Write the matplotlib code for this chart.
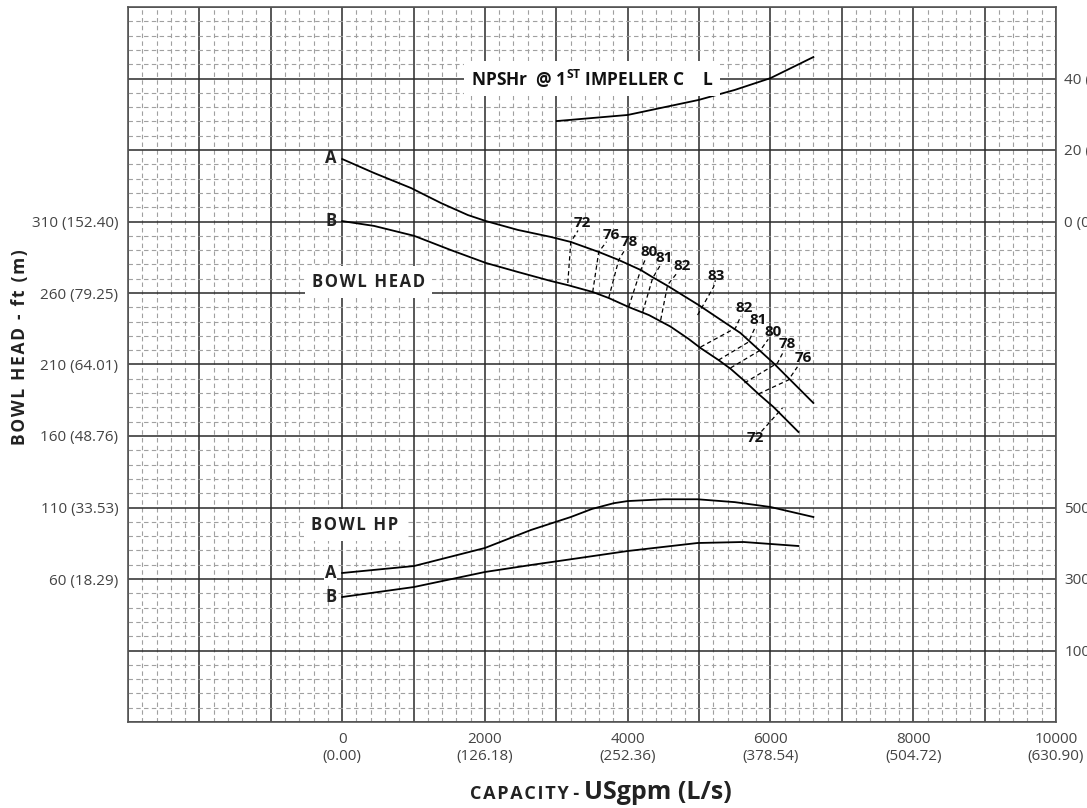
import matplotlib
matplotlib.use('Agg')
import matplotlib.pyplot as plt
from matplotlib.ticker import MultipleLocator

plt.rcParams['font.family'] = ['Open Sans', 'DejaVu Sans']
plt.rcParams['mathtext.fontset'] = 'custom'
plt.rcParams['mathtext.bf'] = 'Open Sans:bold'
plt.rcParams['mathtext.rm'] = 'Open Sans'

# ---- data ----
# bowl head (ft) vs capacity (USgpm)
head_a_q = [0, 448, 965, 1385, 1762, 2014, 2462, 2923, 3203, 3594, 3874, 4182, 4350, 4559, 4993, 5580, 6042, 6601]
head_a_h = [353.7, 343.9, 333.4, 322.9, 314.5, 310.3, 304.1, 299.2, 295.7, 288.7, 283.1, 276.1, 271.0, 265.0,
            251.6, 232.0, 211.0, 183.1]
head_b_q = [0, 448, 1007, 1524, 2014, 2462, 2923, 3161, 3510, 3734, 4014, 4300, 4600, 4850, 5021, 5273, 5441,
            5636, 5832, 6042, 6392]
head_b_h = [310.3, 306.9, 300.0, 290.0, 281.0, 274.7, 268.4, 265.5, 260.7, 256.5, 250.2, 244.5, 236.5, 228.0,
            221.5, 213.1, 207.0, 198.5, 189.4, 180.3, 162.8]

# bowl HP
hp_a_q = [0, 1007, 1999, 2643, 3203, 3500, 3804, 4000, 4500, 4979, 5500, 6000, 6601]
hp_a = [316.8, 336.3, 386.7, 437.0, 473.4, 496.0, 512.0, 518.0, 523.0, 523.0, 515.0, 501.4, 473.4]
hp_b_q = [0, 1007, 2000, 2643, 3300, 4000, 4979, 5622, 6392]
hp_b = [249.6, 277.6, 319.6, 339.1, 358.0, 378.3, 400.7, 403.5, 392.3]

# NPSHr (ft)
npsh_q = [3007, 4000, 4993, 5500, 6000, 6601]
npsh = [28.1, 29.8, 34.0, 36.8, 40.1, 46.0]

# efficiency marks: label, start (q, ft), end (q, ft), label position (q, ft)
eff_lbl = ['72', '76', '78', '80', '81', '82', '83', '82', '81', '80', '78', '76', '72']
eff_q0 = [3161, 3510, 3734, 4014, 4210, 4462, 4979, 5021, 5273, 5441, 5636, 5832, 5930]
eff_h0 = [267.0, 260.7, 256.5, 250.2, 246.7, 241.1, 244.6, 222.2, 213.1, 207.6, 197.1, 189.4, 166.3]
eff_q1 = [3203, 3594, 3874, 4182, 4350, 4559, 5203, 5510, 5692, 5860, 6098, 6252, 6168]
eff_h1 = [295.7, 288.7, 283.1, 276.1, 270.5, 265.6, 264.2, 235.5, 225.7, 220.1, 211.0, 199.2, 179.6]
eff_qt = [3371, 3776, 4028, 4294, 4518, 4769, 5245, 5636, 5832, 6042, 6238, 6462, 5790]
eff_ht = [309.0, 300.6, 295.7, 288.7, 284.5, 278.9, 271.9, 249.5, 241.1, 232.7, 224.3, 214.5, 158.6]

# axis ticks
q_ticks = [0, 2000, 4000, 6000, 8000, 10000]
q_lps = ['0.00', '126.18', '252.36', '378.54', '504.72', '630.90']
h_ticks = [60, 110, 160, 210, 260, 310]
h_m = ['18.29', '33.53', '48.76', '64.01', '79.25', '152.40']
npsh_ticks = [0, 20, 40]
npsh_m = ['0.00', '6.10', '12.19']
hp_ticks = [100, 300, 500]

fig = plt.figure(figsize=(10.87, 8.08), dpi=100)
ax = fig.add_axes([128 / 1087, 1 - 722 / 808, 928 / 1087, 715 / 808])
ax.set_xlim(-3000, 10000)
ax.set_ylim(-40, 460)

# grid
ax.xaxis.set_major_locator(MultipleLocator(1000))
ax.yaxis.set_major_locator(MultipleLocator(50))
ax.xaxis.set_minor_locator(MultipleLocator(200))
ax.yaxis.set_minor_locator(MultipleLocator(10))
ax.grid(which='minor', color='#a0a0a0', lw=0.8, linestyle=(0, (4, 3)))
ax.grid(which='major', color='#2a2a2a', lw=1.1, linestyle='-')
ax.set_axisbelow(True)
ax.tick_params(which='both', length=0)

xt = list(range(-3000, 10001, 1000))
ax.set_xticks(xt)
ax.set_xticklabels([f'{q}\n({q_lps[q_ticks.index(q)]})' if q in q_ticks else '' for q in xt],
                   fontsize=11, color='#444444', linespacing=1.25)
yt = list(range(-40, 461, 50))
ax.set_yticks(yt)
ax.set_yticklabels([f'{h} ({h_m[h_ticks.index(h)]})' if h in h_ticks else '' for h in yt],
                   fontsize=11, color='#444444')
ax.tick_params(axis='x', pad=7)
ax.tick_params(axis='y', pad=7)
for s in ax.spines.values():
    s.set_color('#555555')
    s.set_linewidth(1.2)

# head curves
ax.plot(head_a_q, head_a_h, color='black', lw=1.3, zorder=3)
ax.plot(head_b_q, head_b_h, color='black', lw=1.3, zorder=3)

# efficiency marks
for i in range(len(eff_lbl)):
    tq = eff_q1[i] + 0.6 * (eff_qt[i] - eff_q1[i])
    th = eff_h1[i] + 0.6 * (eff_ht[i] - eff_h1[i])
    if i == len(eff_lbl) - 1:
        tq, th = eff_q0[i] - 0.4 * (eff_q0[i] - eff_qt[i]), eff_h0[i] - 0.4 * (eff_h0[i] - eff_ht[i])
        ax.plot([tq, eff_q1[i]], [th, eff_h1[i]], color='black', lw=0.9,
                linestyle=(0, (3.5, 2.5)), zorder=3)
    else:
        ax.plot([eff_q0[i], eff_q1[i], tq], [eff_h0[i], eff_h1[i], th], color='black', lw=0.9,
                linestyle=(0, (3.5, 2.5)), zorder=3)
    ax.text(eff_qt[i], eff_ht[i], eff_lbl[i], fontsize=11, fontweight='bold', color='#111111',
            ha='center', va='center', zorder=4)

ax.text(364, 268, '\u200a'.join('BOWL HEAD'), fontsize=12, fontweight='bold',
        color='#222222', ha='center', va='center', bbox=dict(facecolor='white', edgecolor='none', pad=5), zorder=4)
ax.text(180, 98, '\u200a'.join('BOWL HP'), fontsize=12, fontweight='bold',
        color='#222222', ha='center', va='center', bbox=dict(facecolor='white', edgecolor='none', pad=5), zorder=4)
ax.text(-80, head_a_h[0] + 1, 'A', fontsize=12, fontweight='bold', color='#222222',
        ha='right', va='center', zorder=4)
ax.text(-80, head_b_h[0], 'B', fontsize=12, fontweight='bold', color='#222222',
        ha='right', va='center', zorder=4)

ax.set_ylabel('\u200a'.join('BOWL HEAD - ft (m)'), fontsize=12.5, fontweight='bold',
              color='#222222', va='center')
ax.yaxis.set_label_coords(-0.116, 0.524)

# NPSHr axis
ax_n = ax.twinx()
ax_n.set_ylim(-140, 60)
ax_n.set_yticks(npsh_ticks)
ax_n.set_yticklabels([f'{v} ({m})' for v, m in zip(npsh_ticks, npsh_m)], fontsize=11, color='#444444')
ax_n.tick_params(length=0, pad=6)
ax_n.plot(npsh_q, npsh, color='black', lw=1.3)
ax_n.text(3500, 40, r'NPSHr  @ 1$^{\mathbf{ST}}$ IMPELLER C    L', fontsize=12.5, fontweight='bold',
          color='#111111', ha='center', va='center', bbox=dict(facecolor='white', edgecolor='none', pad=5))
for s in ax_n.spines.values():
    s.set_visible(False)

# HP axis
ax_p = ax.twinx()
ax_p.set_ylim(-100, 1900)
ax_p.set_yticks(hp_ticks)
ax_p.set_yticklabels([str(v) for v in hp_ticks], fontsize=11, color='#444444')
ax_p.tick_params(length=0, pad=6)
ax_p.plot(hp_a_q, hp_a, color='black', lw=1.3)
ax_p.plot(hp_b_q, hp_b, color='black', lw=1.3)
ax_p.text(-80, hp_a[0], 'A', fontsize=12, fontweight='bold', color='#222222', ha='right', va='center',
          bbox=dict(facecolor='white', edgecolor='none', pad=0.5))
ax_p.text(-80, hp_b[0], 'B', fontsize=12, fontweight='bold', color='#222222', ha='right', va='center')
for s in ax_p.spines.values():
    s.set_visible(False)

# x label: small caps "CAPACITY" + larger units
xl = 584 / 1087
fig.text(xl, 1 - 799 / 808, '\u200a'.join('CAPACITY') + ' - ', fontsize=13,
         fontweight='bold', color='#222222', ha='right', va='baseline')
fig.text(xl, 1 - 799 / 808, 'USgpm (L/s)', fontsize=18,
         fontweight='bold', color='#222222', ha='left', va='baseline')

fig.savefig('out.png', dpi=100)
